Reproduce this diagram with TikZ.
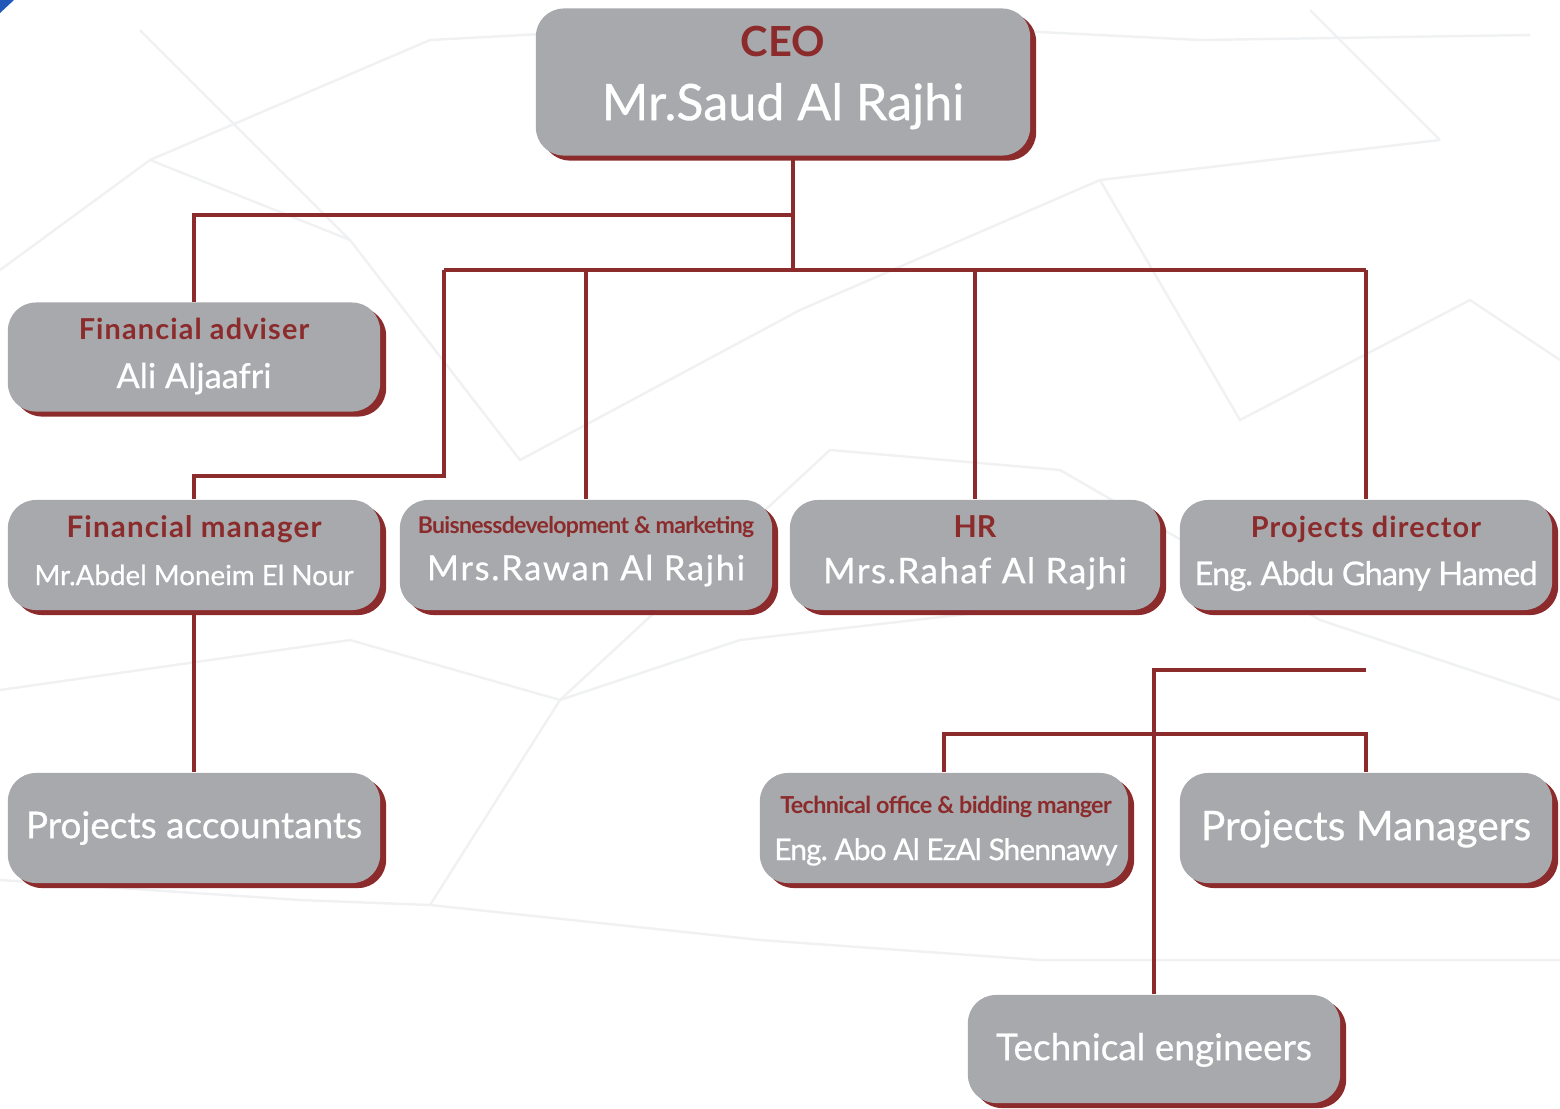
\documentclass[tikz,border=0pt]{standalone}
\usepackage{fontspec}
\setmainfont{Lato}
\usetikzlibrary{shadows}
\frenchspacing

\definecolor{boxgray}{HTML}{A7A9AC}
\definecolor{wine}{HTML}{8C2B2C}
\definecolor{webgray}{HTML}{F0F1F2}
\definecolor{cornerblue}{HTML}{2259B8}

% title (red) and person (white) text
\newcommand{\postitle}[2]{{\fontsize{#1}{#1}\selectfont\bfseries\color{wine}#2}}
\newcommand{\person}[2]{{\fontsize{#1}{#1}\selectfont\addfontfeatures{FakeBold=0.6}\color{white}#2}}

\tikzset{
  unit/.style={fill=boxgray, rounded corners=0.28cm,
    minimum width=3.72cm, minimum height=1.1cm, inner sep=0pt,
    drop shadow={shadow xshift=0.06cm, shadow yshift=-0.05cm, fill=wine, opacity=1}},
  txt/.style={inner sep=0pt, text height=1.5ex, text depth=0.25ex},
  link/.style={draw=wine, line width=0.9pt},
  web/.style={draw=webgray, line width=0.7pt}
}

\begin{document}
\begin{tikzpicture}[x=0.01cm,y=-0.01cm]
\useasboundingbox (0,0) rectangle (1560,1108);

% faint network in the back
\draw[web] (0,270) -- (150,160) -- (430,40) -- (800,20) -- (1200,40) -- (1530,35);
\draw[web] (150,160) -- (350,240) -- (520,460) -- (800,310) -- (1100,180) -- (1440,140);
\draw[web] (0,690) -- (350,640) -- (560,700) -- (830,450) -- (1060,470) -- (1320,620) -- (1560,700);
\draw[web] (0,880) -- (300,900) -- (430,905) -- (760,940) -- (1040,960) -- (1560,960);
\draw[web] (430,905) -- (560,700) -- (740,640) -- (1090,600);
\draw[web] (1100,180) -- (1240,420) -- (1470,300) -- (1560,360);
\draw[web] (350,240) -- (140,30);
\draw[web] (1440,140) -- (1310,10);

% corner mark
\fill[cornerblue] (0,0) -- (14,0) -- (0,13) -- cycle;

% boxes
\node[unit, minimum width=4.94cm, minimum height=1.47cm] (ceo) at (783,82) {};
\node[unit, minimum height=1.09cm] (fa) at (194,357) {};
\node[unit] (fm) at (194,555) {};
\node[unit] (bd) at (586,555) {};
\node[unit, minimum width=3.7cm] (hr) at (975,555) {};
\node[unit] (pd) at (1366,555) {};
\node[unit] (pa) at (194,828) {};
\node[unit, minimum width=3.68cm] (to) at (944,828) {};
\node[unit] (pm) at (1366,828) {};
\node[unit, minimum height=1.08cm] (te) at (1154,1049) {};

% texts
\node[txt] (ceo-t) at (783,45) {\postitle{11.8}{CEO}};
\node[txt] (ceo-n) at (783,109) {\person{14.3}{Mr.Saud Al Rajhi}};
\node[txt] (fa-t) at (194,328) {\postitle{8.2}{\addfontfeatures{LetterSpace=4}Financial adviser}};
\node[txt] (fa-n) at (194,377) {\person{9.8}{Ali Aljaafri}};
\node[txt] (fm-t) at (194,526) {\postitle{8.4}{\addfontfeatures{LetterSpace=4}Financial manager}};
\node[txt] (fm-n) at (194,574) {\person{7.9}{Mr.Abdel Moneim El Nour}};
\node[txt] (bd-t) at (586,522) {\postitle{6.55}{\addfontfeatures{LetterSpace=-3}Buisnessdevelopment \& marketing}};
\node[txt] (bd-n) at (586,569) {\person{9.8}{\addfontfeatures{LetterSpace=5}Mrs.Rawan Al Rajhi}};
\node[txt] (hr-t) at (975,526) {\postitle{8.6}{HR}};
\node[txt] (hr-n) at (975,572) {\person{10}{\addfontfeatures{LetterSpace=4}Mrs.Rahaf Al Rajhi}};
\node[txt] (pd-t) at (1366,526) {\postitle{8.2}{\addfontfeatures{LetterSpace=4}Projects director}};
\node[txt] (pd-n) at (1366,574) {\person{9.3}{\addfontfeatures{LetterSpace=-3}Eng. Abdu Ghany Hamed}};
\node[txt] (pa-n) at (194,827) {\person{10.5}{Projects accountants}};
\node[txt] (to-t) at (946,802) {\postitle{6.65}{\addfontfeatures{LetterSpace=-3}Technical office \& bidding manger}};
\node[txt] (to-n) at (946,849) {\person{8.5}{\addfontfeatures{LetterSpace=-3}Eng. Abo Al EzAl Shennawy}};
\node[txt] (pm-n) at (1366,829) {\person{11.6}{Projects Managers}};
\node[txt] (te-n) at (1154,1049) {\person{10.5}{Technical engineers}};

% connectors
\coordinate (split) at (793,215);
\coordinate (hub) at (793,270);
\coordinate (bend) at (444,476);
\coordinate (techtop) at (1366,670);
\coordinate (mgrbar) at (1366,734);

\draw[link] (ceo.south -| hub) -- (hub);
\draw[link] (split) -| (fa.north);
\draw[link] (bend |- hub) -- (pd.north |- hub);
\draw[link] (bend |- hub) -- (bend) -| (fm.north);
\draw[link] (bd.north |- hub) -- (bd.north);
\draw[link] (hr.north |- hub) -- (hr.north);
\draw[link] (pd.north |- hub) -- (pd.north);
\draw[link] (fm.south) -- (pa.north);
\draw[link] (techtop) -| (te.north);
\draw[link] (to.north) |- (mgrbar) -- (pm.north);
\end{tikzpicture}
\end{document}
